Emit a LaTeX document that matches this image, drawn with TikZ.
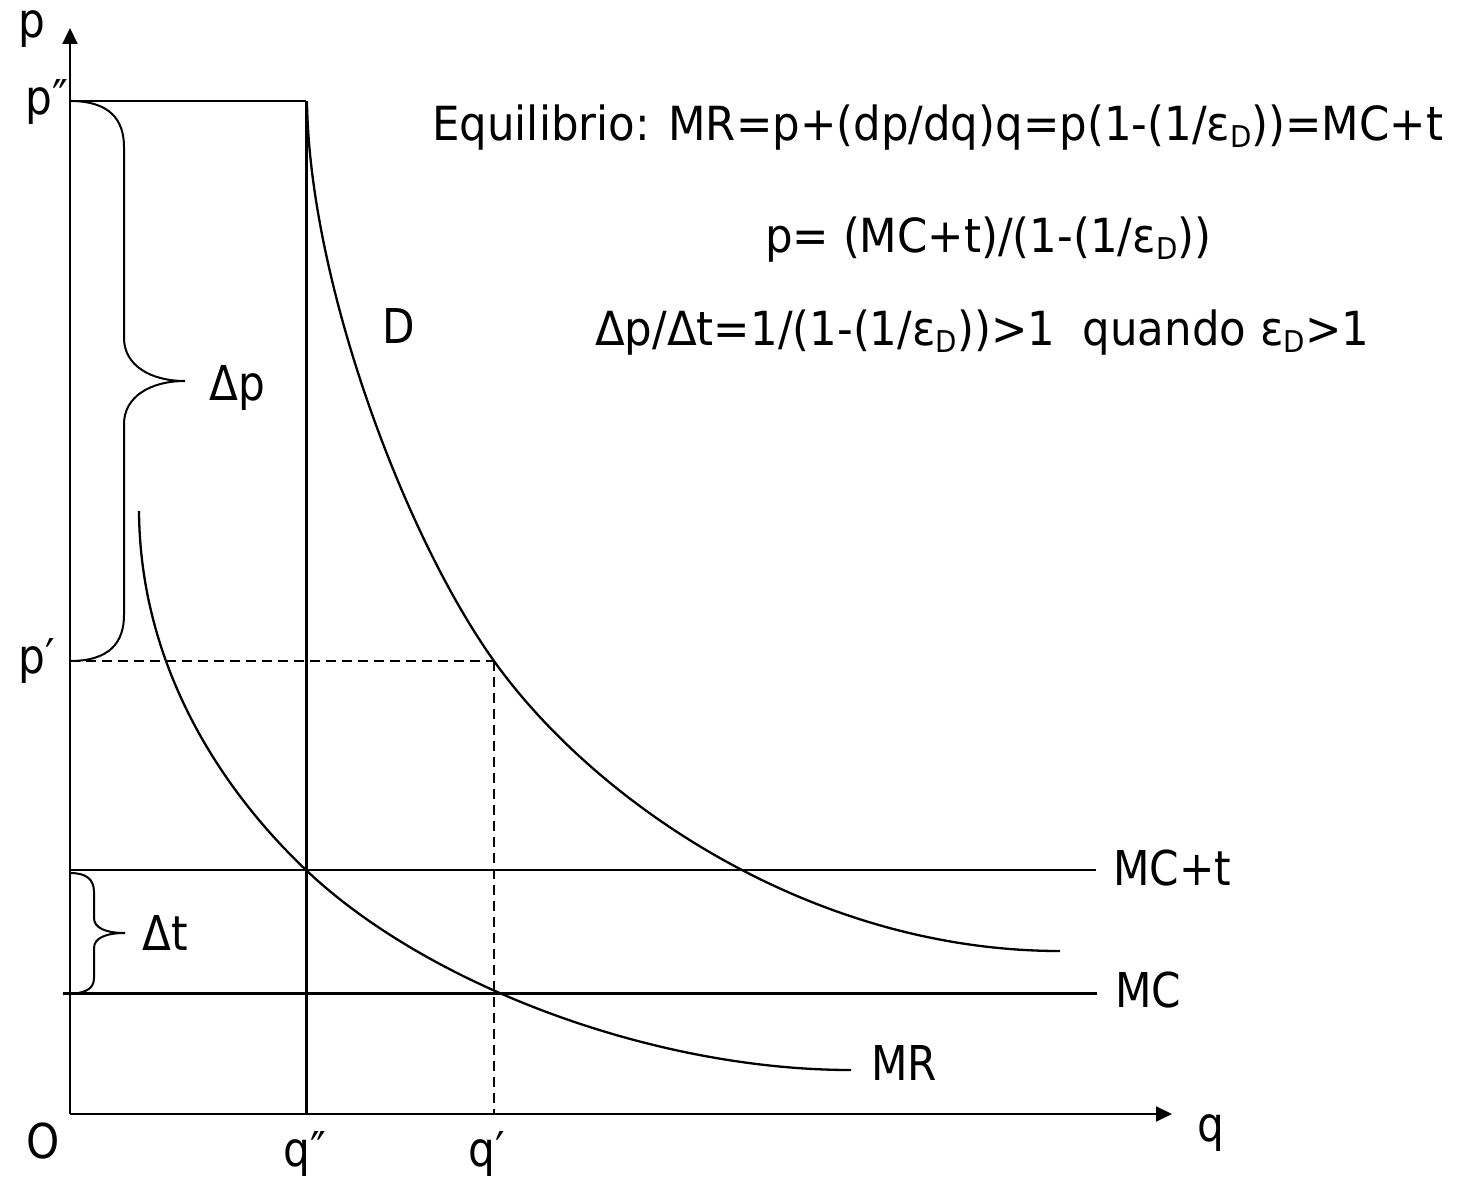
\documentclass[tikz,border=0pt]{standalone}
\usepackage{fontspec}
\setmainfont{DejaVu Sans}[FakeStretch=0.88]
\newfontfamily\eqfont{DejaVu Sans}[FakeStretch=0.925]
\usetikzlibrary{arrows.meta}
\newcommand\epsD{ε\raisebox{-7pt}{\fontsize{30}{30}\selectfont D}}
\tikzset{
  lbl/.style={anchor=base west, inner sep=0pt, font=\fontsize{48}{52}\selectfont},
  eq/.style={anchor=base west, inner sep=0pt, font=\eqfont\fontsize{47}{52}\selectfont},
  axisline/.style={line width=2pt, -{Triangle[length=16pt,width=15pt]}},
  thinline/.style={line width=2pt},
  thickline/.style={line width=3pt},
  curveline/.style={line width=2.3pt},
  dashline/.style={line width=2pt, dash pattern=on 10pt off 6pt},
}
\begin{document}
\begin{tikzpicture}[x=1pt,y=-1pt]
\useasboundingbox (0,0) rectangle (1474,1182);
% key coordinates
\coordinate (O) at (70,1114);
\coordinate (ytip) at (70,28);
\coordinate (xtip) at (1172,1114);
\coordinate (ppp) at (70,101);
\coordinate (corner) at (306,101);
\coordinate (qpp) at (306,1114);
\coordinate (pp) at (70,661);
\coordinate (E) at (494,661);
\coordinate (qp) at (494,1114);
\coordinate (mct0) at (70,870);
\coordinate (mct1) at (1096,870);
\coordinate (mc0) at (63,993);
\coordinate (mc1) at (1097,993);
\coordinate (D0) at (307,103);
\coordinate (D1) at (1060,951);
\coordinate (MR0) at (139,511);
\coordinate (MRq) at (306,870);
\coordinate (MR1) at (851,1070);
% axes
\draw[axisline] (O) -- (ytip);
\draw[axisline] (O) -- (xtip);
% p'' line and q'' line
\draw[line width=2.5pt] (ppp) -- (corner);
\draw[thickline] (corner) -- (qpp);
% MC+t and MC
\draw[line width=2.5pt] (mct0) -- (mct1);
\draw[thickline] (mc0) -- (mc1);
% dashed
\draw[dashline] (pp) -- (E);
\draw[dashline] (E) -- (qp);
% D curve
\draw[curveline] (D0) .. controls (310,283) and (404,535) .. (E)
  .. controls (594,801) and (810,951) .. (D1);
% MR curve
\draw[curveline] (MR0) .. controls (140,661) and (216,784.5) .. (MRq)
  .. controls (426,984) and (651,1070) .. (MR1);
% brace Delta p
\draw[thinline] (ppp) .. controls (110,101) and (124,120) .. (124,147) -- (124,338)
  .. controls (124,365) and (150,381) .. (185,381)
  .. controls (150,381) and (124,397) .. (124,424) -- (124,615)
  .. controls (124,642) and (110,661) .. (pp);
% brace Delta t
\draw[thinline] (70,873) .. controls (86,873) and (94,879) .. (94,892) -- (94,918)
  .. controls (94,928) and (106,933) .. (125,933)
  .. controls (106,933) and (94,938) .. (94,948) -- (94,978)
  .. controls (94,990) and (84,994) .. (63,994);
% labels
\node[lbl] (lp) at (18,38) {p};
\node[lbl] (lppp) at (25,115) {p″};
\node[lbl] (lpp) at (18,673) {p′};
\node[lbl] (lO) at (26,1158) {O};
\node[lbl] (lqpp) at (283,1166) {q″};
\node[lbl] (lqp) at (468,1166) {q′};
\node[lbl] (lq) at (1197,1141) {q};
\node[lbl] (ldp) at (209,400) {Δp};
\node[lbl] (ldt) at (142,950) {Δt};
\node[lbl] (lD) at (382,343) {D};
\node[lbl] (lmct) at (1113,885) {MC+t};
\node[lbl] (lmc) at (1115,1007) {MC};
\node[lbl] (lmr) at (871,1080) {MR};
% equations
\node[eq] (eq1) at (432,141) {Equilibrio: MR=p+(dp/dq)q=p(1-(1/\epsD))=MC+t};
\node[eq] (eq2) at (765,252) {p= (MC+t)/(1-(1/\epsD))};
\node[eq] (eq3) at (595,345) {Δp/Δt=1/(1-(1/\epsD))>1\ \ quando \epsD>1};
\end{tikzpicture}
\end{document}
